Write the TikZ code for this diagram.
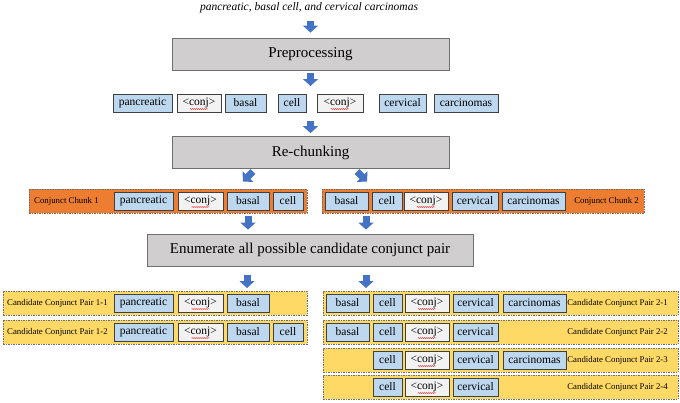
\documentclass[tikz,border=0pt]{standalone}
\usepackage{fontspec}
\setmainfont{Liberation Serif}
\usetikzlibrary{arrows.meta,decorations.pathmorphing}
\definecolor{arrowblue}{HTML}{4472C4}
\definecolor{boxgray}{HTML}{D0CECE}
\definecolor{tokblue}{HTML}{BDD7EE}
\definecolor{conjgray}{HTML}{F2F2F2}
\definecolor{chunkorange}{HTML}{ED7D31}
\definecolor{pairyellow}{HTML}{FFD966}
\definecolor{edgegray}{HTML}{6F6F6F}
\definecolor{tokedge}{HTML}{404040}
\newcommand\tk[6]{\node[#1, minimum width={(#4-#3)*1pt}] (#2) at ({(#3+#4)/2},#5) {#6};}
\newcommand\cj[4]{\tk{conjbox}{#1}{#2}{#3}{#4}{<conj>}\draw[squig] ([xshift=-9pt,yshift=-6pt]#1.center) -- ([xshift=9pt,yshift=-6pt]#1.center);}
\tikzset{
  tok/.style={draw=tokedge, fill=tokblue, line width=0.7pt, minimum height=18pt, inner sep=0pt, font=\fontsize{11.5}{13}\selectfont},
  conjbox/.style={tok, fill=conjgray},
  bigbox/.style={draw=edgegray, fill=boxgray, line width=0.8pt, minimum height=32pt, inner sep=0pt, font=\fontsize{15}{18}\selectfont},
  container/.style={draw=edgegray, dash pattern=on 1.5pt off 1pt, line width=0.6pt, minimum height=24pt, inner sep=0pt},
  chunkbox/.style={container, fill=chunkorange},
  pairbox/.style={container, fill=pairyellow},
  lab/.style={font=\fontsize{8.8}{10}\selectfont, inner sep=0pt},
  blk/.style={draw=arrowblue, line width=7pt, -{Triangle[width=15pt,length=7pt]}},
  squig/.style={draw=red, line width=0.35pt, decorate, decoration={snake, amplitude=0.5pt, segment length=2pt}}
}
\begin{document}
\begin{tikzpicture}[x=1pt,y=-1pt]
\useasboundingbox (0,0) rectangle (680,402);
\node[font=\itshape\fontsize{11.5}{13}\selectfont, inner sep=0pt] (title) at (309,8) {pancreatic, basal cell, and cervical carcinomas};
\tk{bigbox}{pre}{172}{449}{54}{Preprocessing}
% token row
\tk{tok}{r1}{113}{172}{103}{pancreatic}
\cj{r2}{177}{221}{103}
\tk{tok}{r3}{225}{266}{103}{basal}
\tk{tok}{r4}{278}{306}{103}{cell}
\cj{r5}{317}{363}{103}
\tk{tok}{r6}{379}{426}{103}{cervical}
\tk{tok}{r7}{434}{498}{103}{carcinomas}
\tk{bigbox}{re}{172}{449}{152.5}{Re-chunking}
% chunks
\tk{chunkbox}{ch1}{29}{307}{201}{}
\node[lab, anchor=west] (ch1l) at (34,201) {Conjunct Chunk 1};
\tk{tok}{c1a}{114}{173}{201}{pancreatic}
\cj{c1b}{178}{223}{201}
\tk{tok}{c1c}{227}{269}{201}{basal}
\tk{tok}{c1d}{273}{303}{201}{cell}
\tk{chunkbox}{ch2}{322}{644}{201}{}
\tk{tok}{c2a}{325}{368}{201}{basal}
\tk{tok}{c2b}{372}{402}{201}{cell}
\cj{c2c}{404}{448}{201}
\tk{tok}{c2d}{452}{498}{201}{cervical}
\tk{tok}{c2e}{502}{565}{201}{carcinomas}
\node[lab, anchor=east] (ch2l) at (639,201) {Conjunct Chunk 2};
\tk{bigbox}{en}{147}{473}{250}{Enumerate all possible candidate conjunct pair}
% pairs left
\tk{pairbox}{p11}{3}{307}{303}{}
\node[lab, anchor=west] (p11l) at (7,303) {Candidate Conjunct Pair 1-1};
\tk{tok}{p11a}{114}{173}{303}{pancreatic}
\cj{p11b}{178}{223}{303}
\tk{tok}{p11c}{227}{269}{303}{basal}
\tk{pairbox}{p12}{3}{307}{332}{}
\node[lab, anchor=west] (p12l) at (7,332) {Candidate Conjunct Pair 1-2};
\tk{tok}{p12a}{114}{173}{332}{pancreatic}
\cj{p12b}{178}{223}{332}
\tk{tok}{p12c}{227}{269}{332}{basal}
\tk{tok}{p12d}{273}{303}{332}{cell}
% pairs right
\tk{pairbox}{p21}{323}{678}{303}{}
\tk{tok}{p21a}{326}{369}{303}{basal}
\tk{tok}{p21b}{373}{402}{303}{cell}
\cj{p21c}{405}{449}{303}
\tk{tok}{p21d}{453}{498}{303}{cervical}
\tk{tok}{p21e}{503}{566}{303}{carcinomas}
\node[lab, anchor=east] (p21l) at (668,303) {Candidate Conjunct Pair 2-1};
\tk{pairbox}{p22}{323}{678}{332}{}
\tk{tok}{p22a}{326}{369}{332}{basal}
\tk{tok}{p22b}{373}{402}{332}{cell}
\cj{p22c}{405}{449}{332}
\tk{tok}{p22d}{453}{498}{332}{cervical}
\node[lab, anchor=east] (p22l) at (668,332) {Candidate Conjunct Pair 2-2};
\tk{pairbox}{p23}{323}{678}{360}{}
\tk{tok}{p23b}{373}{402}{360}{cell}
\cj{p23c}{405}{449}{360}
\tk{tok}{p23d}{453}{498}{360}{cervical}
\tk{tok}{p23e}{503}{566}{360}{carcinomas}
\node[lab, anchor=east] (p23l) at (668,360) {Candidate Conjunct Pair 2-3};
\tk{pairbox}{p24}{323}{678}{387}{}
\tk{tok}{p24b}{373}{402}{387}{cell}
\cj{p24c}{405}{449}{387}
\tk{tok}{p24d}{453}{498}{387}{cervical}
\node[lab, anchor=east] (p24l) at (668,387) {Candidate Conjunct Pair 2-4};
% arrows
\coordinate (a1s) at (310.5,21);
\draw[blk] (a1s) -- ([yshift=5pt]pre.north);
\coordinate (a2e) at (310.5,86);
\draw[blk] ([yshift=-3pt]pre.south) -- (a2e);
\coordinate (a3s) at (310.5,121);
\draw[blk] (a3s) -- ([yshift=3pt]re.north);
\coordinate (d1s) at (253,171.5);
\coordinate (d1e) at (243,181.5);
\draw[blk] (d1s) -- (d1e);
\coordinate (d2s) at (357,171.5);
\coordinate (d2e) at (367,181.5);
\draw[blk] (d2s) -- (d2e);
\coordinate (e1s) at (248,216);
\coordinate (e2s) at (366,216);
\draw[blk] (e1s) -- ([yshift=4pt]en.north -| e1s);
\draw[blk] (e2s) -- ([yshift=4pt]en.north -| e2s);
\coordinate (f1e) at (247,288);
\coordinate (f2e) at (366,288);
\draw[blk] ([yshift=-9pt]en.south -| f1e) -- (f1e);
\draw[blk] ([yshift=-9pt]en.south -| f2e) -- (f2e);
\end{tikzpicture}
\end{document}
